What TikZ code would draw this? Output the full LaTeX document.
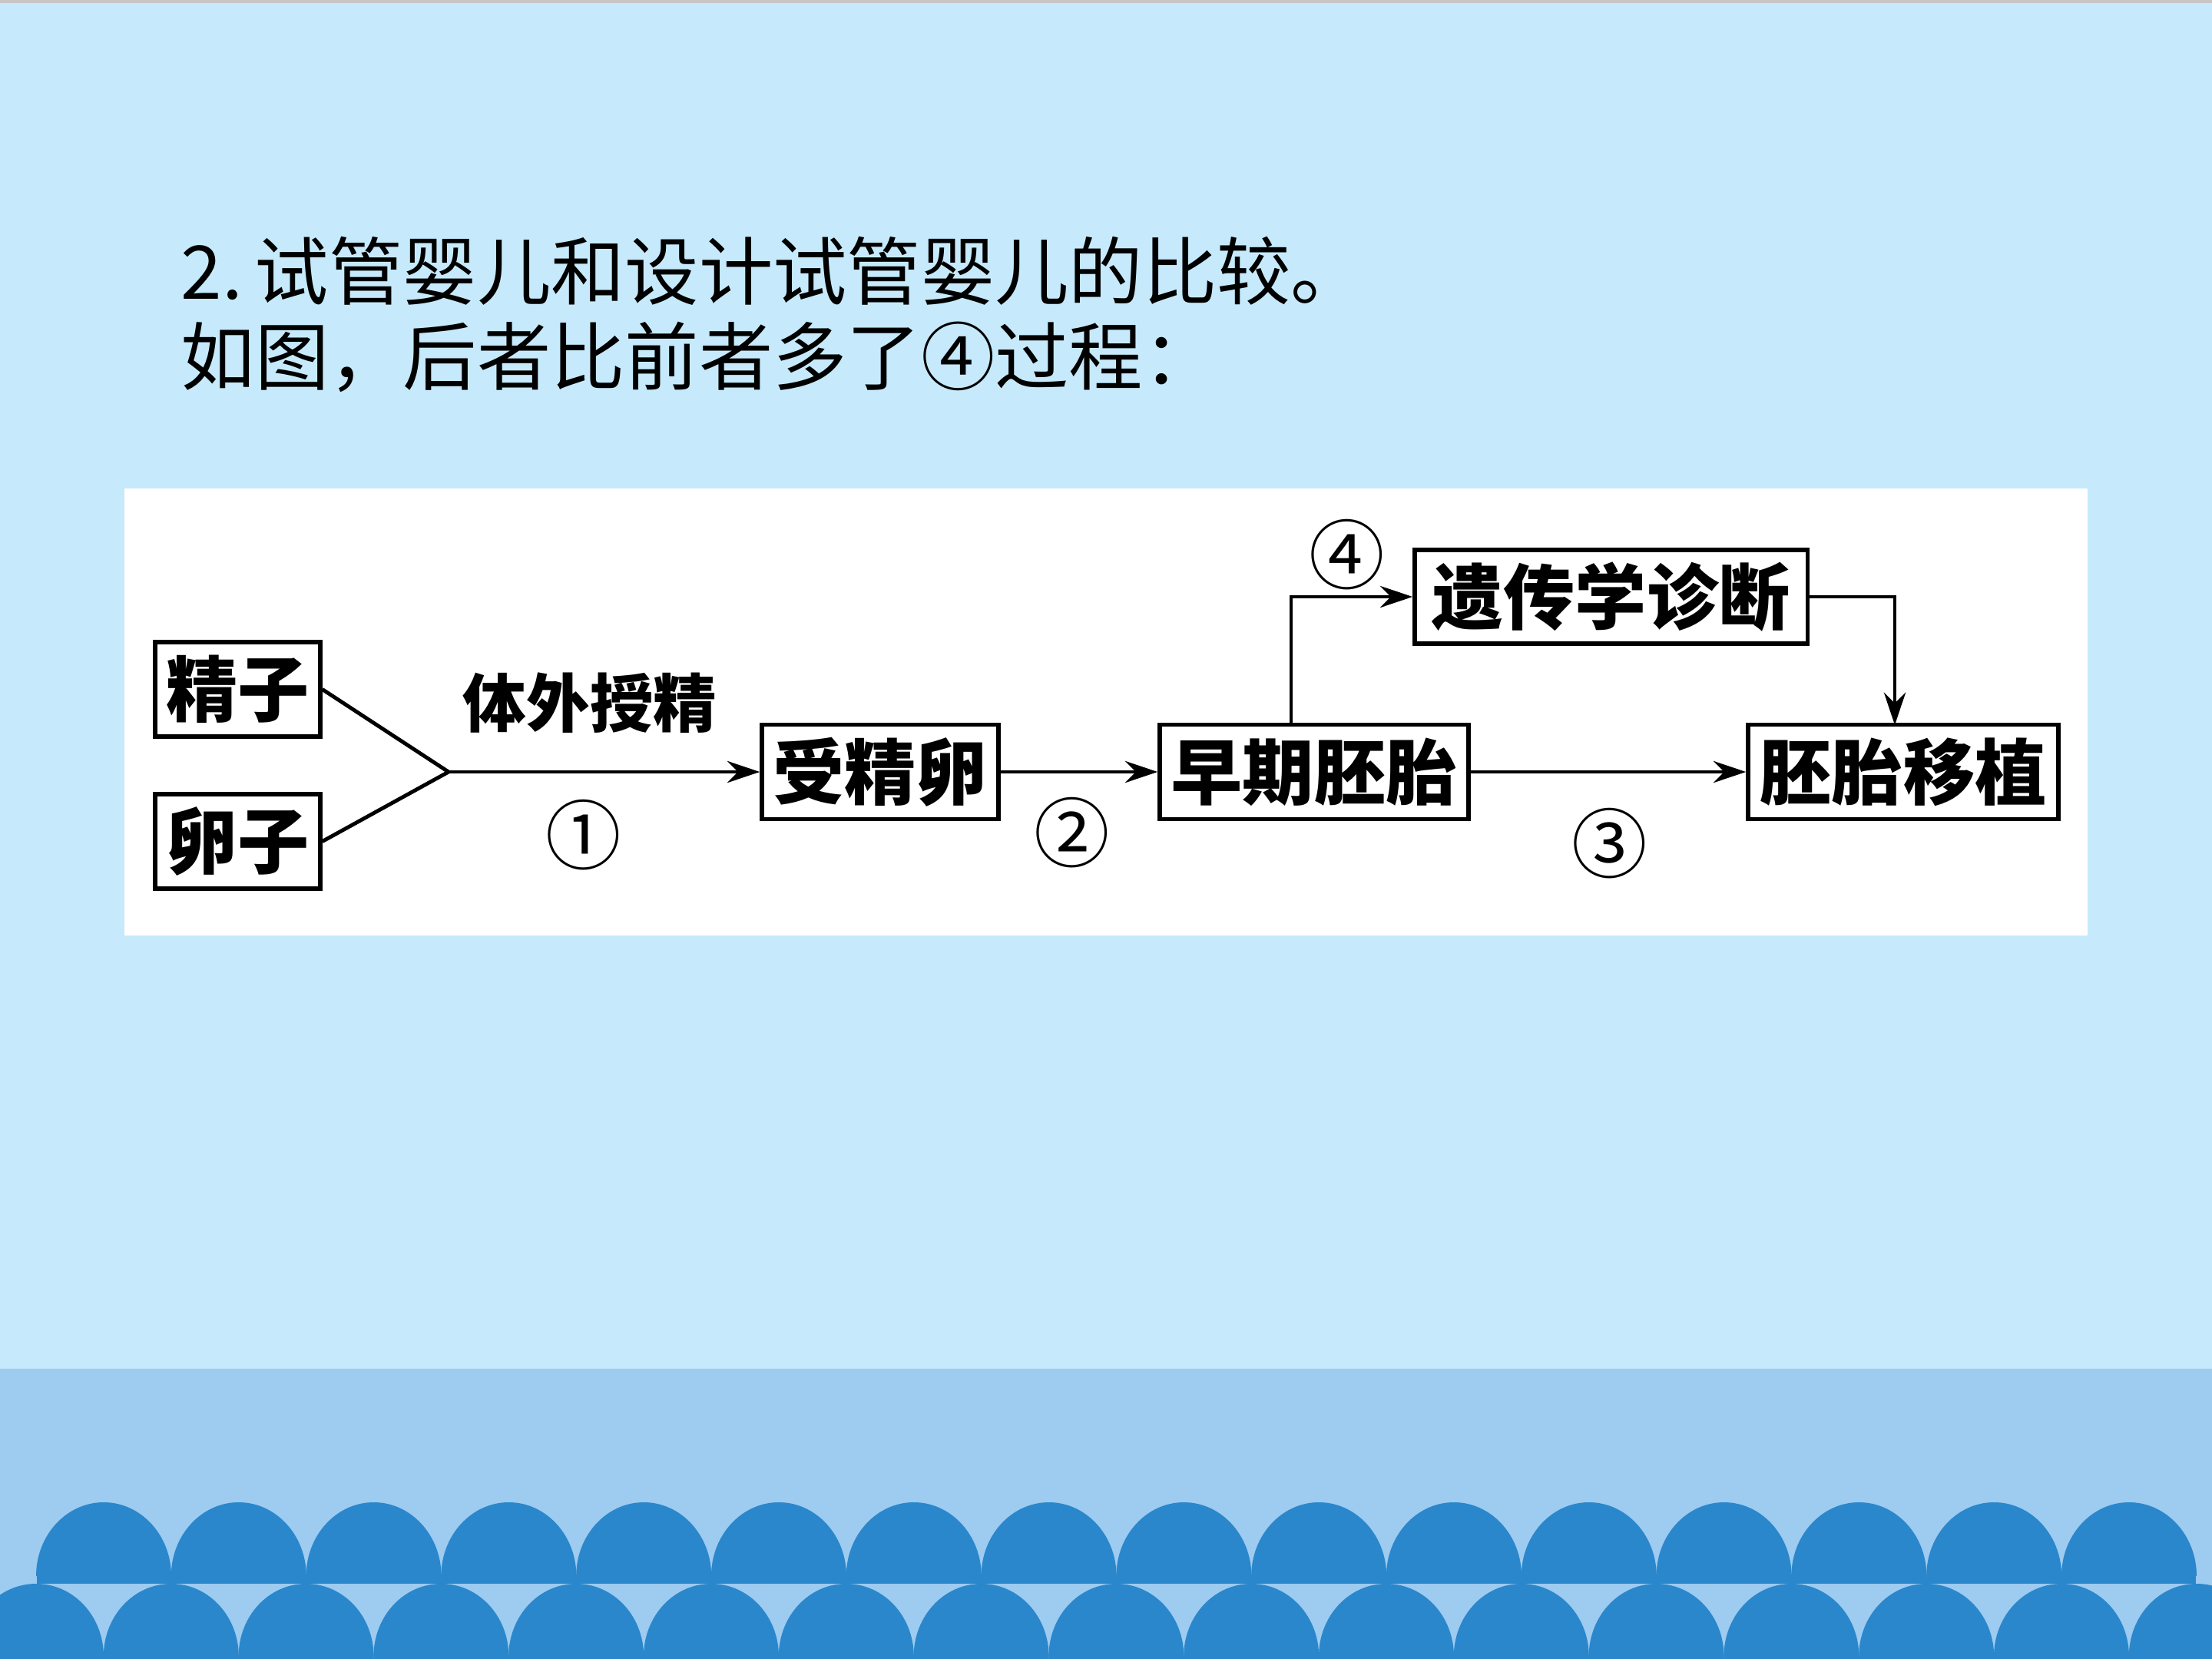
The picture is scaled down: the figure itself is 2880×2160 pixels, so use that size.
\documentclass[tikz,border=0pt]{standalone}
\usepackage{fontspec}
\usepackage{tikz}
\usetikzlibrary{arrows.meta}
\newfontfamily\cjk{Noto Sans CJK SC}
\definecolor{skybg}{RGB}{198,234,251}
\definecolor{seaband}{RGB}{158,203,240}
\definecolor{wavefill}{RGB}{42,135,204}

\begin{document}
\begin{tikzpicture}[x=0.01cm,y=0.01cm,yscale=-1,
	box/.style={draw=black,line width=1.5pt,fill=white,inner sep=0pt,minimum height=1.23cm,font=\cjk\bfseries\fontsize{26.5}{30}\selectfont},
	link/.style={draw=black,line width=1.4pt},
	arr/.style={link,-{Stealth[length=12pt,width=8pt]}},
	num/.style={inner sep=0pt,font=\cjk\fontsize{28}{30}\selectfont},
	titletext/.style={anchor=west,inner sep=0pt,font=\cjk\fontsize{27.4}{32}\selectfont}]
	\useasboundingbox (0,0) rectangle (2880,2160);
	
	%Shape: Background
	\fill[skybg] (0,0) rectangle (2880,2160);
	\fill[gray!45] (0,0) rectangle (2880,4);
	\fill[seaband] (0,1782) rectangle (2880,2160);
	%Shape: Waves
	\begin{scope}
	\clip (0,0) rectangle (2880,2160);
	\fill[wavefill] (48,2050) rectangle (2859,2062);
	\foreach \i in {0,...,15}{
		\pgfmathsetmacro\cx{135+175.8*\i}
		\fill[wavefill] (\cx-88,2052) .. controls (\cx-88,1999) and (\cx-48.6,1956) .. (\cx,1956) .. controls (\cx+48.6,1956) and (\cx+88,1999) .. (\cx+88,2052) -- cycle;
	}
	\foreach \i in {0,...,16}{
		\pgfmathsetmacro\cx{47+175.8*\i}
		\fill[wavefill] (\cx-88,2157) .. controls (\cx-88,2104) and (\cx-48.6,2062) .. (\cx,2062) .. controls (\cx+48.6,2062) and (\cx+88,2104) .. (\cx+88,2157) -- (\cx+88,2170) -- (\cx-88,2170) -- cycle;
	}
	\end{scope}
	
	% Text Node
	\draw (235,353) node [titletext] (title1) {2.\,试管婴儿和设计试管婴儿的比较。};
	% Text Node
	\draw (235,465) node [titletext] (title2) {如图，后者比前者多了④过程：};
	
	%Shape: Rectangle
	\fill[white] (162,636) rectangle (2718,1218);
	
	%Shape: Boxes
	\draw (309.5,897.5) node [box,minimum width=2.15cm] (sperm) {精子};
	\draw (309.5,1095.5) node [box,minimum width=2.15cm] (egg) {卵子};
	\draw (1146,1005) node [box,minimum width=3.08cm] (zygote) {受精卵};
	\draw (1711,1005) node [box,minimum width=4.02cm] (embryo) {早期胚胎};
	\draw (2097.5,777) node [box,minimum width=5.11cm,minimum height=1.22cm] (diagnosis) {遗传学诊断};
	\draw (2478,1005) node [box,minimum width=4.04cm] (transfer) {胚胎移植};
	\coordinate (merge) at (584,1005);
	\coordinate (branch) at (1681,946);
	\coordinate (drop) at (2467,944);
	
	%Straight Lines
	\draw [link] (sperm.east) -- (merge) -- (egg.east);
	\draw [arr] (merge) -- (zygote.west);
	\draw [arr] (zygote.east) -- (embryo.west);
	\draw [arr] (embryo.east) -- (transfer.west);
	\draw [arr] (branch) |- (diagnosis.west);
	\draw [arr] (diagnosis.east) -| (drop);
	
	% Text Node
	\draw (768,915) node [inner sep=0pt,font=\cjk\bfseries\fontsize{23.5}{26}\selectfont] (invitro) {体外授精};
	% Text Node
	\draw (760,1087) node [num] (step1) {①};
	\draw (1396,1084) node [num] (step2) {②};
	\draw (2096,1098) node [num] (step3) {③};
	\draw (1754,722) node [num] (step4) {④};
	
\end{tikzpicture}
\end{document}
